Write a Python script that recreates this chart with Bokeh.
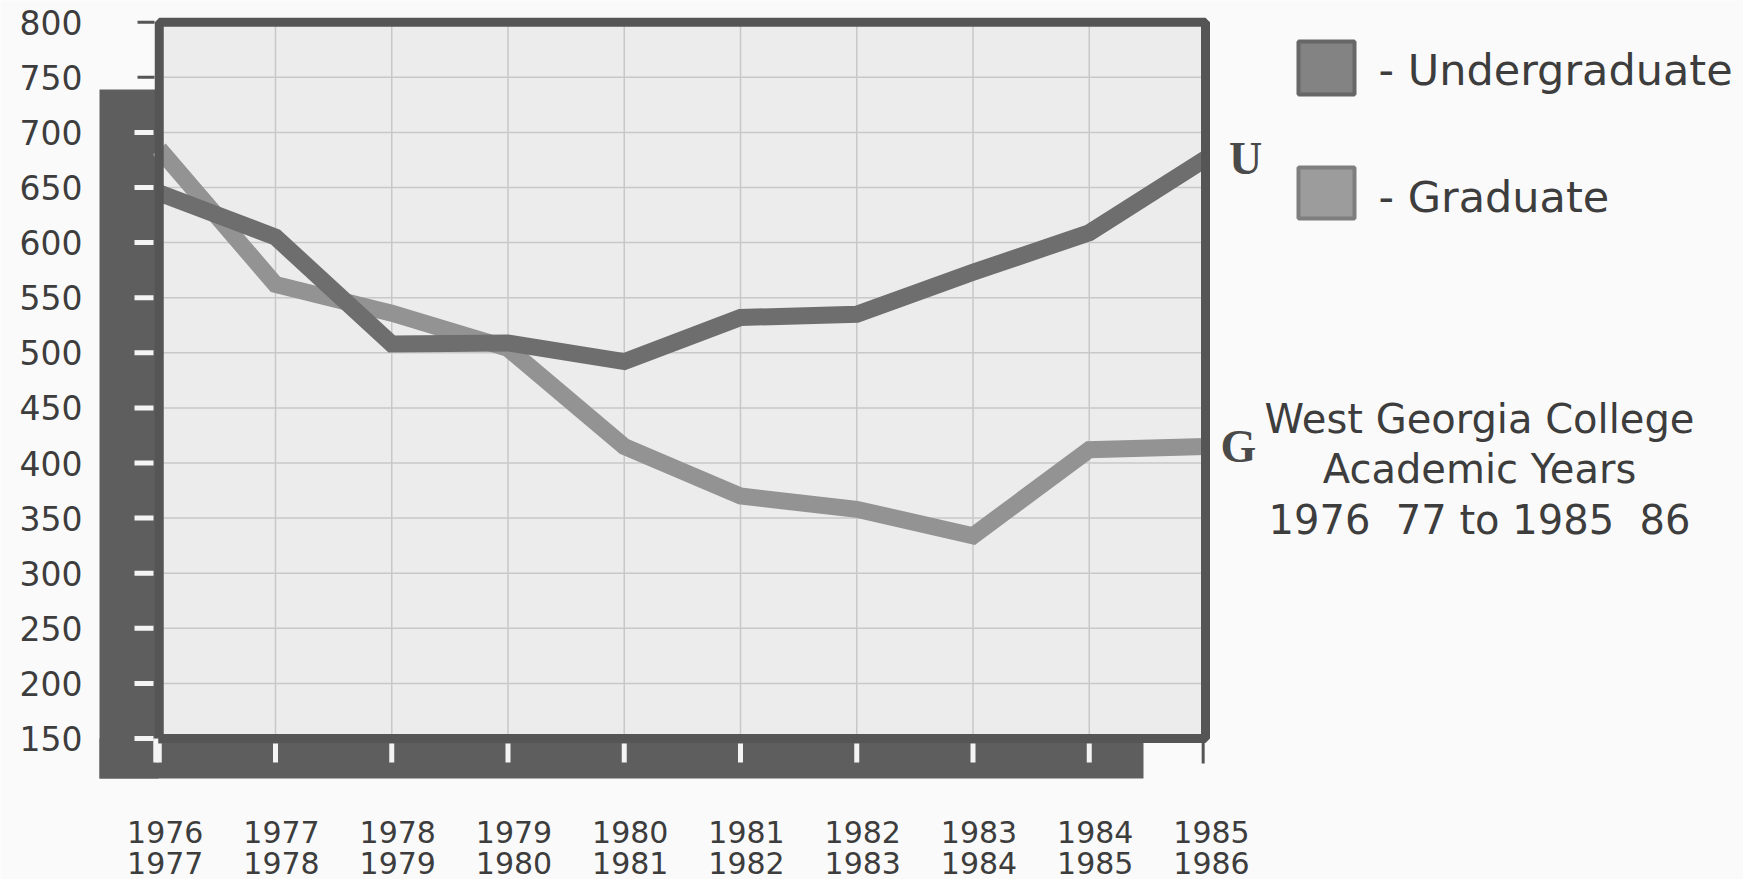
from bokeh.plotting import figure
from bokeh.models import Range1d
from bokeh.core.properties import value
from bokeh.embed import file_html
from bokeh.resources import INLINE

# ---- data ----
years_top = ["1976", "1977", "1978", "1979", "1980", "1981", "1982", "1983", "1984", "1985"]
years_bottom = ["1977", "1978", "1979", "1980", "1981", "1982", "1983", "1984", "1985", "1986"]
undergraduate = [645, 605, 508, 509, 492, 532, 535, 573, 609, 676]
graduate = [685, 562, 536, 504, 415, 370, 358, 334, 412, 415]
y_ticks = [150, 200, 250, 300, 350, 400, 450, 500, 550, 600, 650, 700, 750, 800]
y_tick_labels = [str(v) for v in y_ticks]
legend_labels = ["- Undergraduate", "- Graduate"]
title_lines = ["West Georgia College", "Academic Years", "1976 \u00a077 to 1985 \u00a086"]

idx = list(range(len(years_top)))
Y_MIN, Y_MAX = 150, 800

# ---- layout (page pixels -> data coords) ----
W, H = 1743, 879
X0, DX = 158.75, 116.25       # page x of first category, spacing
Y0, DY = 21.7, 1.102          # page y of Y_MAX, pixels per unit
OFF = 0


def X(px):
    return (px - X0) / DX


def Y(py):
    return Y_MAX - (py - Y0) / DY


p = figure(width=W, height=H, output_backend="svg", toolbar_location=None,
           x_range=Range1d(X(OFF), X(OFF + W)), y_range=Range1d(Y(OFF + H), Y(OFF)),
           min_border=0)
p.axis.visible = False
p.grid.visible = False
p.outline_line_color = None
p.background_fill_color = "#fafafa"
p.border_fill_color = "#fafafa"

FONT = value("DejaVu Sans")
TXT = "#3d3d3d"
SHADOW = "#5e5e5e"
BORDER = "#555555"

# shadow bands
p.quad(left=[X(99), X(99)], right=[X(158), X(1143)], top=[Y(89), Y(738)],
       bottom=[Y(778), Y(778)], fill_color=SHADOW, line_color=None)

# plot area
p.quad(left=[idx[0]], right=[idx[-1]], bottom=[Y_MIN], top=[Y_MAX],
       fill_color="#ececec", line_color=None)

# grid
inner_y = [v for v in y_ticks if Y_MIN < v < Y_MAX]
p.segment(x0=[idx[0]] * len(inner_y), x1=[idx[-1]] * len(inner_y), y0=inner_y, y1=inner_y,
          line_color="#c8c8c8", line_width=1.5)
inner_x = idx[1:-1]
p.segment(x0=inner_x, x1=inner_x, y0=[Y_MIN] * len(inner_x), y1=[Y_MAX] * len(inner_x),
          line_color="#c8c8c8", line_width=1.5)

# data lines
p.line(idx, graduate, line_color="#939393", line_width=17, line_join="miter")
p.line(idx, undergraduate, line_color="#6e6e6e", line_width=17, line_join="miter")

# border
p.quad(left=[idx[0]], right=[idx[-1]], bottom=[Y_MIN], top=[Y_MAX],
       fill_color=None, line_color=BORDER, line_width=9)

# y ticks
in_shadow_y = [v for v in y_ticks if v <= 700]
out_y = [v for v in y_ticks if v > 700]
p.segment(x0=[X(134)] * len(in_shadow_y), x1=[X(153)] * len(in_shadow_y),
          y0=in_shadow_y, y1=in_shadow_y, line_color="#f4f4f4", line_width=5)
p.segment(x0=[X(137)] * len(out_y), x1=[X(154)] * len(out_y),
          y0=out_y, y1=out_y, line_color=BORDER, line_width=3)

# x ticks
white_x = idx[:-1]
p.segment(x0=white_x, x1=white_x, y0=[Y(743)] * len(white_x), y1=[Y(762)] * len(white_x),
          line_color="#f4f4f4", line_width=5)
p.segment(x0=[idx[-1] - 0.02], x1=[idx[-1] - 0.02], y0=[Y(742)], y1=[Y(763)],
          line_color=BORDER, line_width=3)
# corner piece of the 150 / first tick
p.segment(x0=[idx[0] - 0.03], x1=[idx[0] - 0.03], y0=[Y_MIN], y1=[Y(762)],
          line_color="#f4f4f4", line_width=5)

# y tick labels
p.text(x=[X(82)] * len(y_ticks), y=y_ticks, text=y_tick_labels, text_font=FONT,
       text_font_size="33px", text_align="right", text_baseline="middle", text_color=TXT)

# x tick labels (two lines)
p.text(x=idx, y=[Y(831)] * len(idx), text=years_top, text_font=FONT, x_offset=6,
       text_font_size="30px", text_align="center", text_baseline="middle", text_color=TXT)
p.text(x=idx, y=[Y(862)] * len(idx), text=years_bottom, text_font=FONT, x_offset=6,
       text_font_size="30px", text_align="center", text_baseline="middle", text_color=TXT)

# legend
p.quad(left=[X(1298)], right=[X(1354)], top=[Y(41)], bottom=[Y(94)],
       fill_color="#838383", line_color="#676767", line_width=4)
p.quad(left=[X(1298)], right=[X(1354)], top=[Y(167)], bottom=[Y(218)],
       fill_color="#9c9c9c", line_color="#7e7e7e", line_width=4)
p.text(x=[X(1378), X(1378)], y=[Y(69), Y(196)], text=legend_labels, text_font=FONT,
       text_font_size="43px", text_align="left", text_baseline="middle", text_color=TXT)

# series end markers
p.text(x=[X(1245)], y=[undergraduate[-1]], text=["U"], text_font=value("Liberation Serif"),
       text_font_style="bold", text_font_size="46px", text_align="center",
       text_baseline="middle", text_color="#4a4a4a")
p.text(x=[X(1238)], y=[graduate[-1]], text=["G"], text_font=value("Liberation Serif"),
       text_font_style="bold", text_font_size="46px", text_align="center",
       text_baseline="middle", text_color="#4a4a4a")

# title block
p.text(x=[X(1479)] * 3, y=[Y(418), Y(468), Y(519)], text=title_lines, text_font=FONT,
       text_font_size="40px", text_align="center", text_baseline="middle", text_color=TXT)

open("out.html", "w").write(file_html(p, INLINE))
